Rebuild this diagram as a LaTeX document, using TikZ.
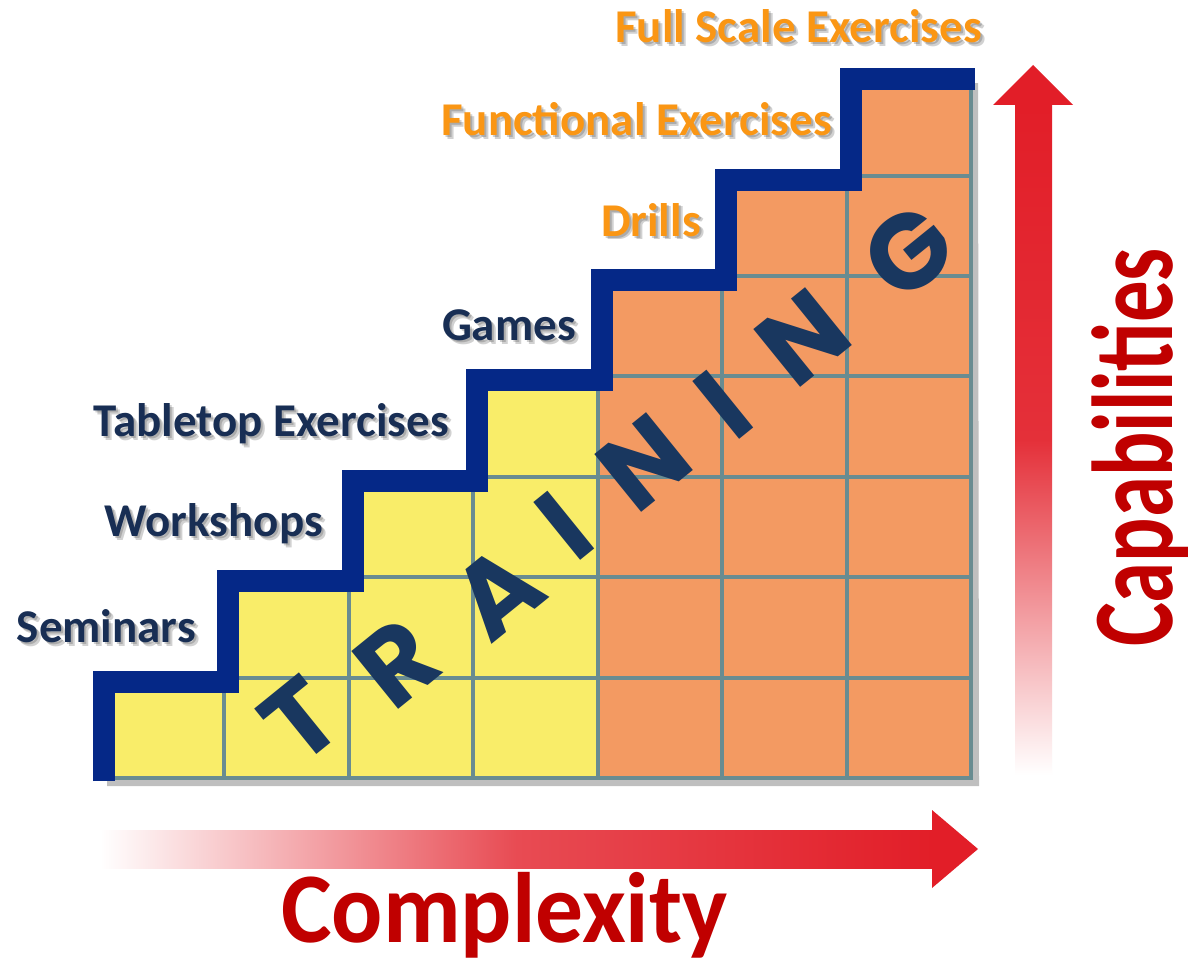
\documentclass[tikz,border=0pt]{standalone}
\usepackage{fontspec}
\setmainfont{Carlito}
\newfontfamily\trainfont{Poppins}
\usepackage{graphicx}
\usepackage{xcolor}
\definecolor{stairnavy}{RGB}{5, 40, 135}
\definecolor{labelnavy}{RGB}{24, 46, 84}
\definecolor{labelorange}{RGB}{250, 150, 20}
\definecolor{trainnavy}{RGB}{25, 55, 95}
\definecolor{cellyellow}{RGB}{249, 237, 105}
\definecolor{cellorange}{RGB}{243, 154, 98}
\definecolor{gridteal}{RGB}{105, 140, 145}
\definecolor{arrowred}{RGB}{226, 30, 40}
\definecolor{textred}{RGB}{192, 0, 0}
\usepackage{tikz}
\usetikzlibrary{positioning, calc}

\tikzset{
  labeltext/.style={font=\fontsize{47}{56}\selectfont\bfseries, inner sep=0pt, anchor=base east},
  labelshadow/.style={labeltext, text=black, opacity=0.18},
  gridline/.style={gridteal, line width=4pt},
  stairline/.style={stairnavy, line width=22pt, line join=miter},
  trainletter/.style={font={\trainfont\bfseries\fontsize{106}{106}\selectfont}, text=trainnavy, rotate=39, inner sep=0pt},
}

% label with a soft drop shadow: name, base-east point, colour, text
\newcommand{\stairlabel}[4]{%
  \node[labelshadow] (#1-shadowa) at ($(#2)+(2,2)$) {#4};
  \node[labelshadow] (#1-shadowb) at ($(#2)+(4,4)$) {#4};
  \node[labeltext, text=#3] (#1) at (#2) {#4};
}

\begin{document}
\begin{tikzpicture}[x=1pt, y=-1pt]
    \useasboundingbox (0,0) rectangle (1188,960);
    \fill[white] (0,0) rectangle (1188,960);

    % shadow of the staircase
    \fill[black, opacity=0.25] (107,786)
      \foreach \c in {0,...,6} { -- ({107+124.43*\c}, {786-100.4*(\c+1)}) -- ({107+124.43*(\c+1)}, {786-100.4*(\c+1)}) }
      -- (979,786) -- cycle;

    % cells, one column at a time
    \foreach \c in {0,...,6} {
      \pgfmathsetmacro{\xa}{100+124.43*\c}
      \pgfmathsetmacro{\xb}{\xa+124.43}
      \pgfmathsetmacro{\yt}{778-100.4*(\c+1)}
      \ifnum\c<4 \def\cellcol{cellyellow}\else\def\cellcol{cellorange}\fi
      \fill[\cellcol] (\xa,778) rectangle (\xb,\yt);
      \foreach \r in {0,...,\c} {
        \draw[gridline] (\xa,{778-100.4*\r}) rectangle (\xb,{778-100.4*(\r+1)});
      }
    }

    % navy stair edge
    \draw[stairline] (104,781)
      \foreach \c in {0,...,6} { -- ({104+124.43*\c}, {782-100.4*(\c+1)}) -- ({104+124.43*(\c+1)}, {782-100.4*(\c+1)}) };

    % step labels
    \stairlabel{seminars}{196,642}{labelnavy}{Seminars}
    \stairlabel{workshops}{323,536}{labelnavy}{Workshops}
    \stairlabel{tabletop}{449,436}{labelnavy}{Tabletop Exercises}
    \stairlabel{games}{576,340}{labelnavy}{Games}
    \stairlabel{drills}{701,236}{labelorange}{Drills}
    \stairlabel{functional}{832,136}{labelorange}{Functional Exercises}
    \stairlabel{fullscale}{982,43}{labelorange}{Full Scale Exercises}

    % TRAINING along the diagonal
    \foreach \ch/\px/\py [count=\k] in {T/300/720, R/397/663, A/497/592, I/564/526, N/644/462, I/723/405, N/803/338, G/908/252}
      \node[trainletter] (train\k) at (\px,\py) {\ch};

    % complexity arrow
    \shade[left color=white, right color=arrowred, middle color=arrowred!80] (100,830) rectangle (933,868);
    \fill[arrowred] (932,810) -- (978,849) -- (932,888) -- cycle;
    \node[font=\fontsize{100}{110}\selectfont\bfseries, text=textred, inner sep=0pt, anchor=base west]
      (complexity) at (281,942) {\scalebox{0.955}[1]{Complexity}};

    % capabilities arrow
    \shade[bottom color=white, top color=arrowred, middle color=arrowred!92] (1015,775) rectangle (1052,104);
    \fill[arrowred] (993,105) -- (1033,65) -- (1073,105) -- cycle;
    \node[font=\fontsize{115}{120}\selectfont\bfseries, text=textred, inner sep=0pt, anchor=base west, rotate=90]
      (capabilities) at (1172,647) {\scalebox{0.72}[1]{Capabilities}};
\end{tikzpicture}
\end{document}
